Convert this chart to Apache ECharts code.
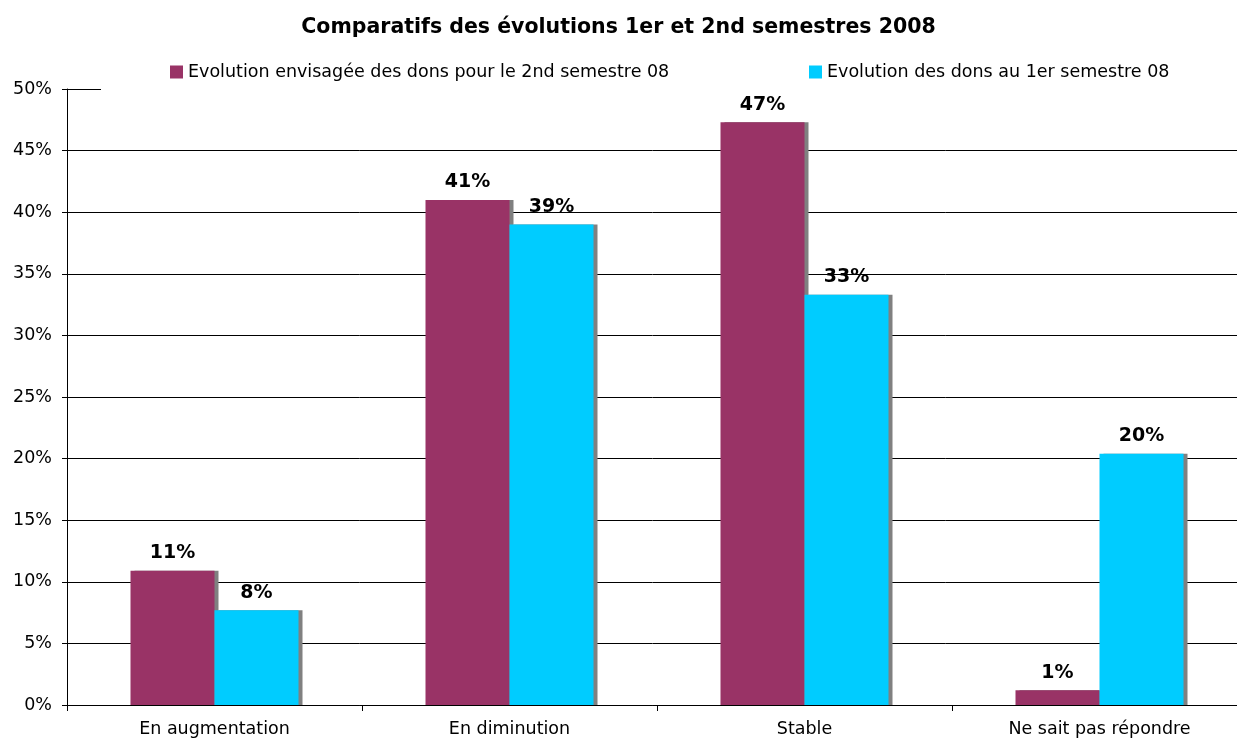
<!DOCTYPE html>
<html>
<head>
<meta charset="utf-8">
<title>Comparatifs des évolutions 1er et 2nd semestres 2008</title>
<script src="https://cdn.jsdelivr.net/npm/echarts@6/dist/echarts.min.js"></script>
<style>
  html, body { margin: 0; padding: 0; background: #fff; }
  #chart { width: 1237px; height: 740px; }
</style>
</head>
<body>
<div id="chart"></div>
<script>
// Categories and survey results (percent of respondents)
const categories = ['En augmentation', 'En diminution', 'Stable', 'Ne sait pas répondre'];
const seriesNames = [
  'Evolution envisagée des dons pour le 2nd semestre 08',
  'Evolution des dons au 1er semestre 08'
];
const secondSemester = [10.9, 41.0, 47.3, 1.2];
const firstSemester = [7.7, 39.0, 33.3, 20.4];
const yTicks = { min: 0, max: 50, step: 5 };

const FONT = '"DejaVu Sans", Verdana, sans-serif';
const COLORS = ['#993366', '#00CCFF'];

const chart = echarts.init(document.getElementById('chart'), null, { renderer: 'canvas' });

function barSeries(name, values, color) {
  return {
    name: name,
    type: 'bar',
    data: values,
    barWidth: 84,
    barGap: '0%',
    itemStyle: {
      color: color,
      shadowColor: '#808080',
      shadowBlur: 0,
      shadowOffsetX: 4,
      shadowOffsetY: 0
    },
    label: {
      show: true,
      position: 'top',
      distance: 8,
      color: '#000',
      fontFamily: FONT,
      fontWeight: 'bold',
      fontSize: 19,
      formatter: p => Math.round(p.value) + '%'
    }
  };
}

const legendText = { color: '#000', fontFamily: FONT, fontSize: 17.5 };

chart.setOption({
  backgroundColor: '#fff',
  animation: false,
  title: {
    text: 'Comparatifs des évolutions 1er et 2nd semestres 2008',
    left: 'center',
    top: 12,
    textStyle: { color: '#000', fontFamily: FONT, fontWeight: 'bold', fontSize: 20.5 }
  },
  legend: [
    {
      data: [seriesNames[0]], left: 170, top: 63, padding: 0,
      icon: 'rect', itemWidth: 13, itemHeight: 13, itemGap: 4,
      textStyle: legendText
    },
    {
      data: [seriesNames[1]], left: 809, top: 63, padding: 0,
      icon: 'rect', itemWidth: 13, itemHeight: 13, itemGap: 4,
      textStyle: legendText
    }
  ],
  // The plot runs slightly past the right edge of the canvas
  grid: {
    left: 67, width: 1180, top: 89, height: 616,
    containLabel: false, outerBoundsMode: 'none'
  },
  xAxis: {
    type: 'category',
    data: categories,
    axisLine: { show: true, lineStyle: { color: '#000', width: 1 } },
    axisTick: { show: true, length: 6, lineStyle: { color: '#000' } },
    axisLabel: { color: '#000', fontFamily: FONT, fontSize: 17.5, margin: 15 },
    splitLine: { show: false }
  },
  yAxis: {
    type: 'value',
    min: yTicks.min,
    max: yTicks.max,
    interval: yTicks.step,
    axisLine: { show: true, lineStyle: { color: '#000', width: 1 } },
    axisTick: { show: true, length: 5, lineStyle: { color: '#000' } },
    axisLabel: {
      color: '#000', fontFamily: FONT, fontSize: 17.5, margin: 15,
      formatter: '{value}%'
    },
    splitLine: { show: true, showMaxLine: false, lineStyle: { color: '#000', width: 1 } }
  },
  series: [
    barSeries(seriesNames[0], secondSemester, COLORS[0]),
    barSeries(seriesNames[1], firstSemester, COLORS[1])
  ]
});

// Short cap line at the top of the value axis
const topY = chart.convertToPixel({ yAxisIndex: 0 }, yTicks.max);
const leftX = chart.getModel().getComponent('grid').coordinateSystem.getRect().x;
chart.setOption({
  graphic: [{
    type: 'line',
    shape: { x1: leftX, y1: Math.round(topY) + 0.5, x2: leftX + 34, y2: Math.round(topY) + 0.5 },
    style: { stroke: '#000', lineWidth: 1 },
    silent: true
  }]
});
</script>
</body>
</html>
